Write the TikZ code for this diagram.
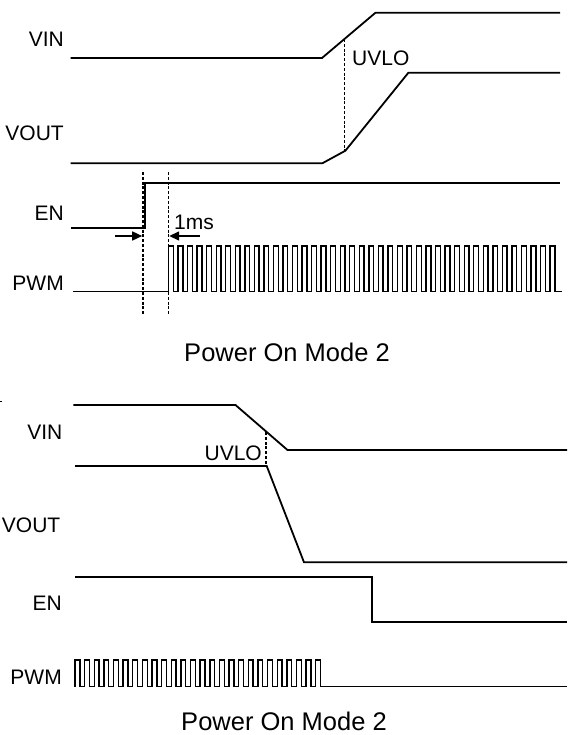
\documentclass[tikz,border=0pt]{standalone}
\usepackage{fontspec}
\setmainfont{Liberation Sans}
\usetikzlibrary{arrows.meta}
\tikzset{
  sig/.style={line width=1.8pt, line join=miter},
  pwm/.style={line width=1.4pt},
  dsh/.style={line width=1.8pt, dash pattern=on 3pt off 1.8pt},
  lbl/.style={inner sep=0pt, anchor=east, font=\fontsize{21}{25}\selectfont},
  captxt/.style={inner sep=0pt, font=\fontsize{25.5}{30}\selectfont},
  arr/.style={line width=1.5pt, -{Triangle[length=10pt,width=9pt]}}
}
\begin{document}
\begin{tikzpicture}[x=1pt,y=-1pt]
\useasboundingbox (0,0) rectangle (571,735);
% ---------- top diagram ----------
\node[lbl] (vin1) at (64,39) {VIN};
\node[lbl] (vout1) at (64,133) {VOUT};
\node[lbl] (en1) at (64,213) {EN};
\node[lbl] (pwm1) at (64,283) {PWM};
\node[lbl, anchor=west] (uvlo1) at (352,58) {UVLO};
\node[lbl, anchor=west] (ms) at (174,222) {1ms};
\node[captxt] (cap1) at (287,352) {Power On Mode 2};

\draw[sig] (70.7,58) -- (322,58) -- (375.5,12.7) -- (560,12.7);
\draw[sig] (70.7,163.3) -- (322.3,163.3) -- (345.4,150.7) -- (408.4,72.7) -- (560,72.7);
\draw[dsh] (344.5,39) -- (344.5,150.7);

\draw[sig] (71.4,228.3) -- (144.7,228.3) -- (144.7,182.7) -- (560,182.7);
\draw[dsh] (142.9,172) -- (142.9,314);
\draw[dsh] (168.5,172) -- (168.5,314);
\coordinate (a1s) at (115.4,236);
\coordinate (a1e) at (142.2,236);
\coordinate (a2s) at (199.6,236);
\coordinate (a2e) at (169.2,236);
\draw[arr] (a1s) -- (a1e);
\draw[arr] (a2s) -- (a2e);

\draw[pwm] (73.3,291.7) -- (168.5,291.7)
  \foreach \k in {1,...,41} { -- ++(0,-45.7) -- ++(4.77,0) -- ++(0,45.7) -- ++(4.77,0) }
  -- (562,291.7);

% ---------- bottom diagram ----------
\draw[line width=0.8pt] (0,401) -- (2,401);
\node[lbl] (vin2) at (62.5,432) {VIN};
\node[lbl] (vout2) at (60.5,525) {VOUT};
\node[lbl] (en2) at (62,603) {EN};
\node[lbl] (pwm2) at (62,677) {PWM};
\node[lbl] (uvlo2) at (262,453) {UVLO};
\node[captxt] (cap2) at (284,721) {Power On Mode 2};

\draw[sig] (73.3,405) -- (235.5,405) -- (287.5,450) -- (567,450);
\draw[sig] (75,466) -- (266.7,466) -- (304,562.3) -- (567,562.3);
\draw[dsh] (265.6,432) -- (265.6,466);

\draw[sig] (75,576.7) -- (371.8,576.7) -- (371.8,622.3) -- (567,622.3);

\draw[pwm] (75,686.7)
  \foreach \k in {1,...,26} { -- ++(0,-26.7) -- ++(4.8,0) -- ++(0,26.7) -- ++(4.83,0) }
  -- (567,686.7);
\end{tikzpicture}
\end{document}
